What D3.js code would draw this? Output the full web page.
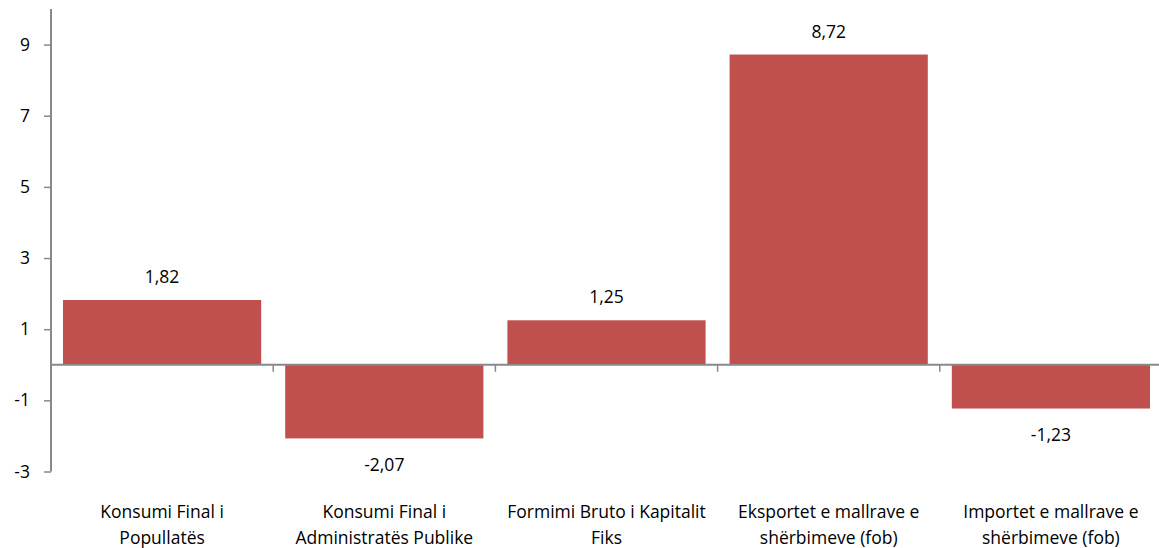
<!DOCTYPE html>
<html><head><meta charset="utf-8">
<script src="https://cdn.jsdelivr.net/npm/d3@7"></script>
<style>
body{margin:0;background:#fff;}
svg text{font-family:"Open Sans", sans-serif;fill:#000;}
</style></head>
<body><svg id="c" width="1159" height="548"></svg>
<script>
const categories = [
  ["Konsumi Final i", "Popullatës"],
  ["Konsumi Final i", "Administratës Publike"],
  ["Formimi Bruto i Kapitalit", "Fiks"],
  ["Eksportet e mallrave e", "shërbimeve (fob)"],
  ["Importet e mallrave e", "shërbimeve (fob)"]
];
const values = [1.82, -2.07, 1.25, 8.72, -1.23];
const valueLabels = ["1,82", "-2,07", "1,25", "8,72", "-1,23"];
const yTicks = [-3, -1, 1, 3, 5, 7, 9];

(function(){
const svg = d3.select("#c");
const leftX = 51, rightX = 1162;
const fs = 17.5;
const y = d3.scaleLinear().domain([-3, 10]).range([471.5, 9]);
const x = d3.scaleBand().domain(d3.range(values.length)).range([leftX, rightX]).paddingInner(0.108).paddingOuter(0.054);
const axisColor = "#898989";

// bars
svg.selectAll("rect.bar").data(values).join("rect")
  .attr("class","bar")
  .attr("x",(d,i)=>x(i))
  .attr("width",x.bandwidth())
  .attr("y",d=>y(Math.max(0,d)))
  .attr("height",d=>Math.abs(y(d)-y(0)))
  .attr("fill","#C0504D");

// y axis
const yAxis = d3.axisLeft(y).tickValues(yTicks).tickSize(7).tickPadding(14).tickFormat(d=>String(d));
const gy = svg.append("g").attr("transform",`translate(${leftX},0)`).call(yAxis);
gy.select(".domain").remove();
gy.append("line").attr("x1",0).attr("x2",0).attr("y1",y(10)).attr("y2",y(-3)).attr("stroke",axisColor).attr("stroke-width",2);
gy.selectAll(".tick line").attr("stroke",axisColor).attr("stroke-width",1.5);
gy.selectAll(".tick text").attr("font-size",fs).attr("font-family","'Open Sans', sans-serif").attr("fill","#000");

// x axis at zero
const boundaries = d3.range(1, values.length).map(i => x(i) - x.step()*x.paddingInner()/2);
svg.append("line").attr("x1",leftX).attr("x2",1159).attr("y1",y(0)).attr("y2",y(0)).attr("stroke",axisColor).attr("stroke-width",2);
svg.selectAll("line.xt").data(boundaries).join("line").attr("class","xt")
  .attr("x1",d=>d).attr("x2",d=>d).attr("y1",y(0)).attr("y2",y(0)+7)
  .attr("stroke",axisColor).attr("stroke-width",1.5);

// value labels
svg.selectAll("text.vl").data(values).join("text").attr("class","vl")
  .attr("x",(d,i)=>x(i)+x.bandwidth()/2)
  .attr("y",d=> d>=0 ? y(d)-17 : y(d)+32.5)
  .attr("text-anchor","middle").attr("font-size",fs)
  .text((d,i)=>valueLabels[i]);

// category labels
const cg = svg.selectAll("text.cl").data(categories).join("text").attr("class","cl")
  .attr("text-anchor","middle").attr("font-size",fs);
cg.each(function(lines,i){
  const t = d3.select(this);
  lines.forEach((ln,j)=>{
    t.append("tspan").attr("x",x(i)+x.bandwidth()/2).attr("y",518+j*25.5).text(ln);
  });
});
})();
</script></body></html>
